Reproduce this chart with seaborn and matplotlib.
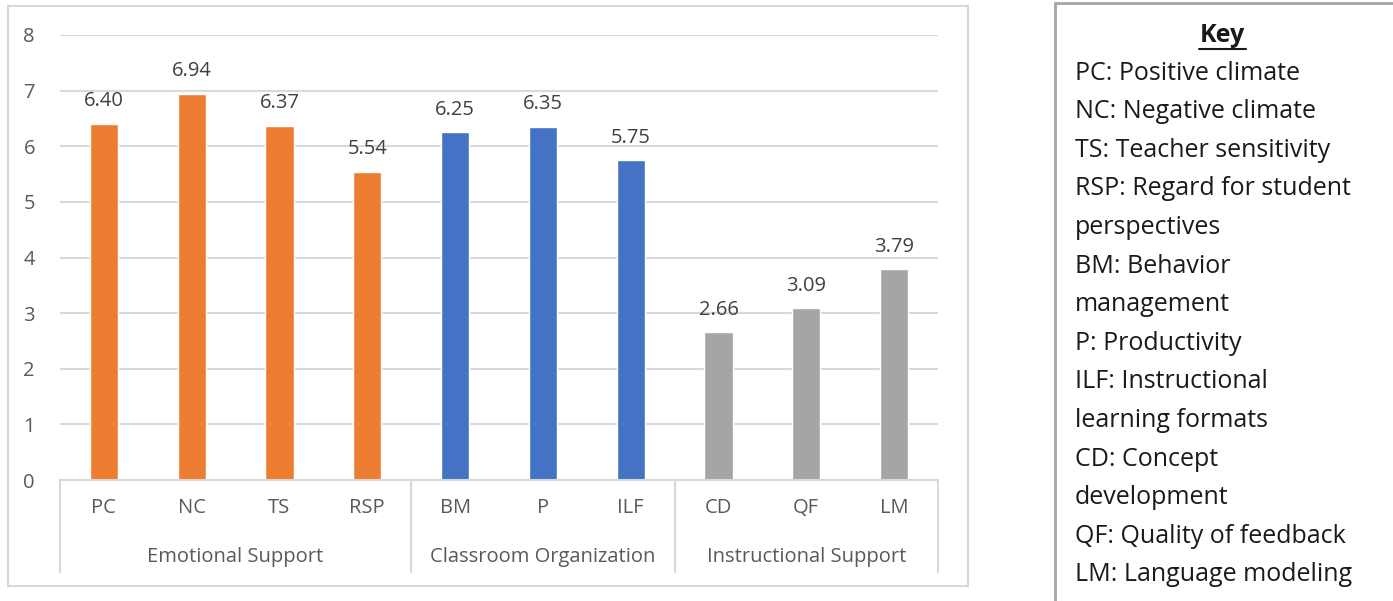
import pandas as pd
import numpy as np
import matplotlib.pyplot as plt
from matplotlib.patches import Rectangle
import seaborn as sns

sns.set_theme(style="white")
plt.rcParams['font.family'] = ['Open Sans', 'DejaVu Sans']

# Chart data
codes = ["PC", "NC", "TS", "RSP", "BM", "P", "ILF", "CD", "QF", "LM"]
scores = [6.40, 6.94, 6.37, 5.54, 6.25, 6.35, 5.75, 2.66, 3.09, 3.79]
domains = ["Emotional Support"] * 4 + ["Classroom Organization"] * 3 + ["Instructional Support"] * 3
domain_names = ["Emotional Support", "Classroom Organization", "Instructional Support"]
domain_colors = ["#ED7D31", "#4472C4", "#A5A5A5"]
yticks = [0, 1, 2, 3, 4, 5, 6, 7, 8]

key_title = "Key"
key_lines = ["PC: Positive climate", "NC: Negative climate", "TS: Teacher sensitivity",
             "RSP: Regard for student", "perspectives", "BM: Behavior", "management",
             "P: Productivity", "ILF: Instructional", "learning formats", "CD: Concept",
             "development", "QF: Quality of feedback", "LM: Language modeling"]

df = pd.DataFrame({"code": codes, "score": scores, "domain": domains})

W, H = 1393, 601
fig = plt.figure(figsize=(W / 100, H / 100), dpi=100)

def fx(px):
    return px / W

def fy(py):
    return 1 - py / H

# axes placed in pixel space
ax = fig.add_axes([fx(60), fy(480), fx(938) - fx(60), fy(35) - fy(480)])

sns.barplot(data=df, x="code", y="score", hue="domain", hue_order=domain_names,
            palette=domain_colors, dodge=False, width=0.32, legend=False,
            saturation=1, ax=ax)

ax.set_ylim(0, 8)
ax.set_xlim(-0.5, len(codes) - 0.5)
ax.set_yticks(yticks)
ax.yaxis.grid(True, color="#d9d9d9", lw=1.5)
ax.set_axisbelow(True)
for s in ["top", "right", "left"]:
    ax.spines[s].set_visible(False)
ax.spines["bottom"].set_color("#d9d9d9")
ax.spines["bottom"].set_linewidth(1.5)
ax.set_xlabel("")
ax.set_ylabel("")
ax.tick_params(axis="y", length=0, pad=18, labelsize=14.5, labelcolor="#595959")
ax.tick_params(axis="x", length=0, pad=13, labelsize=14.5, labelcolor="#595959")

# value labels
for i, v in enumerate(scores):
    ax.annotate(f"{v:.2f}", (i, v), xytext=(0, 9), textcoords="offset points",
                ha="center", va="bottom", fontsize=14.5, color="#404040")

# group separators and labels
trans = ax.get_xaxis_transform()
depth = -92 / 445
bounds = [-0.5, 3.5, 6.5, 9.5]
for b in bounds:
    ax.plot([b, b], [0, depth], transform=trans, color="#d9d9d9", lw=1.5,
            clip_on=False)
for k, name in enumerate(domain_names):
    mid = (bounds[k] + bounds[k + 1]) / 2
    ax.text(mid, -77 / 445, name, transform=trans, ha="center", va="center",
            fontsize=14.5, color="#595959")

# outer chart frame
fig.patches.append(Rectangle((fx(8), fy(586)), fx(968) - fx(8), fy(6) - fy(586),
                             transform=fig.transFigure, fill=False,
                             edgecolor="#d9d9d9", lw=1.5))

# key box
fig.patches.append(Rectangle((fx(1055), fy(640)), fx(1450) - fx(1055), fy(3) - fy(640),
                             transform=fig.transFigure, fill=False,
                             edgecolor="#a6a6a6", lw=2))
fig.text(fx(1222), fy(36), key_title, ha="center", va="center", fontsize=18,
         fontweight="bold", color="#1a1a1a")
fig.add_artist(plt.Line2D([fx(1199), fx(1246)], [fy(49), fy(49)],
                          transform=fig.transFigure, color="#1a1a1a", lw=1.5))
for j, line in enumerate(key_lines):
    fig.text(fx(1075), fy(73 + j * 38.6), line, ha="left", va="center",
             fontsize=18, color="#1a1a1a")

fig.savefig("out.png", dpi=100)
